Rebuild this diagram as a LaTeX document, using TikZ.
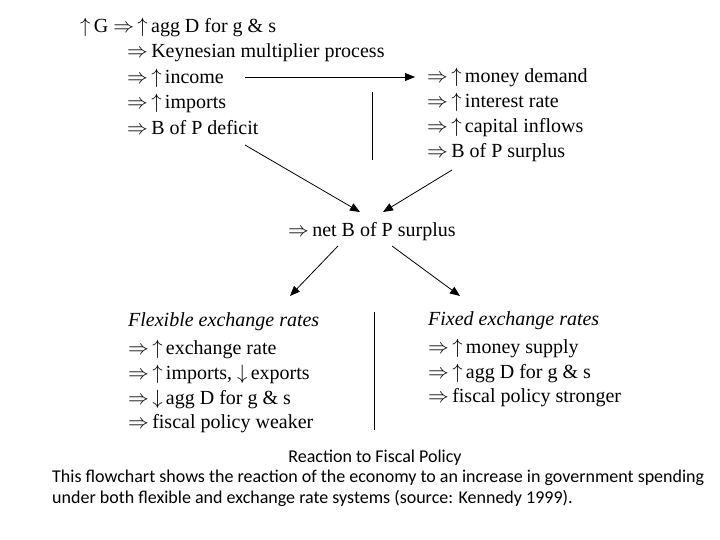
\documentclass[tikz,border=0pt]{standalone}
\usepackage{fontspec}
\setmainfont{Liberation Serif}
\newfontfamily\capfont{Carlito}
\usetikzlibrary{arrows.meta}
\newcommand{\RA}{$\Rightarrow$\,}
\newcommand{\UA}{$\uparrow$\,}
\newcommand{\DA}{$\downarrow$\,}
\begin{document}
\begin{tikzpicture}[x=1pt,y=-1pt,
  t/.style={anchor=west,inner sep=0pt,font=\fontsize{20}{22}\selectfont},
  captxt/.style={inner sep=0pt,font=\capfont\fontsize{18}{20}\selectfont},
  arr/.style={-{Triangle[length=10pt,width=8pt]},line width=0.8pt},
  ln/.style={line width=0.8pt}]
\useasboundingbox (0,0) rectangle (720,540);
\node[t] (g) at (80,27) {\UA G \RA\UA agg D for g \& s};
\node[t] (k) at (127,53) {\RA Keynesian multiplier process};
\node[t] (inc) at (127,78) {\RA\UA income};
\node[t] (imp) at (127,103) {\RA\UA imports};
\node[t] (def) at (127,128) {\RA B of P deficit};
\node[t] (md) at (427,77) {\RA\UA money demand};
\node[t] (ir) at (427,102) {\RA\UA interest rate};
\node[t] (ci) at (427,127) {\RA\UA capital inflows};
\node[t] (sur) at (427,153) {\RA B of P surplus};
\coordinate (a1) at (245,77); \coordinate (a2) at (415,77);
\draw[arr] (a1) -- (a2);
\coordinate (v1) at (372,92); \coordinate (v2) at (372,160);
\draw[ln] (v1) -- (v2);
\node[t] (net) at (288,232) {\RA net B of P surplus};
\coordinate (d1) at (245,145); \coordinate (d2) at (360,212);
\coordinate (e1) at (452,170); \coordinate (e2) at (383,212);
\draw[arr] (d1) -- (d2); \draw[arr] (e1) -- (e2);
\coordinate (f1) at (338,246); \coordinate (f2) at (290,296);
\coordinate (h1) at (392,246); \coordinate (h2) at (460,296);
\draw[arr] (f1) -- (f2); \draw[arr] (h1) -- (h2);
\node[t] (fl) at (128,322) {\itshape Flexible exchange rates};
\node[t] (l1) at (128,349) {\RA\UA exchange rate};
\node[t] (l2) at (128,374) {\RA\UA imports, \DA exports};
\node[t] (l3) at (128,399) {\RA\DA agg D for g \& s};
\node[t] (l4) at (128,424) {\RA fiscal policy weaker};
\coordinate (w1) at (374,312); \coordinate (w2) at (374,430);
\draw[ln] (w1) -- (w2);
\node[t] (fx) at (428,321) {\itshape Fixed exchange rates};
\node[t] (r1) at (428,348) {\RA\UA money supply};
\node[t] (r2) at (428,373) {\RA\UA agg D for g \& s};
\node[t] (r3) at (428,398) {\RA fiscal policy stronger};
\node[captxt] (c0) at (375,458) {Reaction to Fiscal Policy};
\node[captxt,anchor=west] (c1) at (52,478) {This flowchart shows the reaction of the economy to an increase in government spending};
\node[captxt,anchor=west] (c2) at (52,498) {under both flexible and exchange rate systems (source: Kennedy 1999).};
\end{tikzpicture}
\end{document}
